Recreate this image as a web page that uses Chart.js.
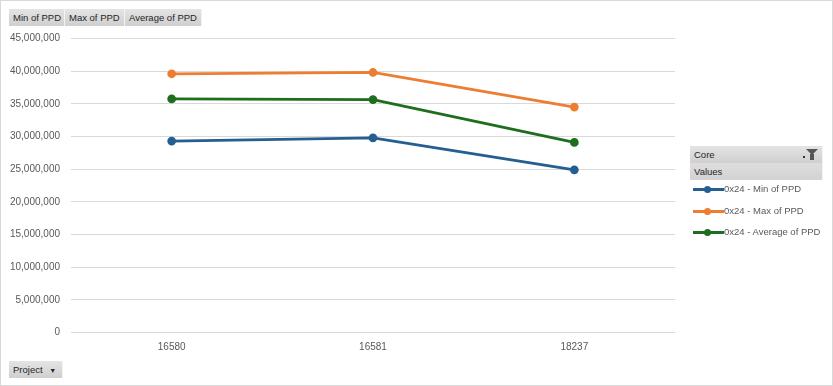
<!DOCTYPE html>
<html><head><meta charset="utf-8">
<script src="https://cdn.jsdelivr.net/npm/chart.js@4"></script>
<style>
html,body{margin:0;padding:0;background:#fff;}
#wrap{position:absolute;left:0;top:0;width:831px;height:384px;border:1px solid #d9d9d9;background:#fff;font-family:"Liberation Sans",Arial,sans-serif;}
#c{position:absolute;left:0;top:0;}
.btn{position:absolute;height:17px;line-height:17px;font-size:9.5px;color:#262626;padding:0 4px;box-sizing:border-box;background:linear-gradient(#e4e4e4,#cfcfcf);border-right:1px solid #f4f4f4;white-space:nowrap;overflow:hidden;}
.lg{position:absolute;left:692px;font-size:9.5px;color:#595959;white-space:nowrap;}
.sw{display:inline-block;position:relative;width:31px;height:10px;vertical-align:middle;}
.sw i{position:absolute;left:0;top:4px;width:31px;height:3px;}
.sw b{position:absolute;left:11px;top:2px;width:7px;height:7px;border-radius:50%;}
.fun{position:absolute;right:4px;top:3px;width:0;height:0;border-left:6px solid transparent;border-right:6px solid transparent;border-top:6px solid #555;}
.fun2{position:absolute;right:8px;top:8px;width:4px;height:6px;background:#555;}
.dot{position:absolute;right:17px;top:10px;width:2px;height:2px;background:#333;}
</style></head><body>
<div id="wrap">
<canvas id="c" width="831" height="384"></canvas>
<div class="btn" style="left:8px;top:8px;width:56px;">Min of PPD</div>
<div class="btn" style="left:64px;top:8px;width:60px;">Max of PPD</div>
<div class="btn" style="left:124px;top:8px;width:77px;">Average of PPD</div>
<div class="btn" style="left:8px;top:360px;width:54px;">Project <span style="font-size:7px;margin-left:4px;">&#9660;</span></div>
<div class="btn" style="left:689px;top:145px;width:133px;">Core<span class="dot"></span><span class="fun"></span><span class="fun2"></span></div>
<div class="btn" style="left:689px;top:162px;width:133px;background:linear-gradient(#dedede,#d2d2d2);">Values</div>
<div id="legend"></div>
</div>
<script>
const categories = ["16580", "16581", "18237"];
const seriesNames = ["0x24 - Min of PPD", "0x24 - Max of PPD", "0x24 - Average of PPD"];
const minPPD = [29300000, 29800000, 24900000];
const maxPPD = [39600000, 39800000, 34500000];
const avgPPD = [35750000, 35650000, 29100000];
const colors = ["#255E91", "#ED7D31", "#1E6E1E"];
const seriesData = [minPPD, maxPPD, avgPPD];

const lg = document.getElementById('legend');
seriesNames.forEach((n, i) => {
  const d = document.createElement('div');
  d.className = 'lg';
  d.style.top = (182 + i * 21.5) + 'px';
  d.innerHTML = '<span class="sw"><i style="background:' + colors[i] + '"></i><b style="background:' + colors[i] + '"></b></span>' + n;
  lg.appendChild(d);
});

new Chart(document.getElementById('c'), {
  type: 'line',
  data: {
    labels: categories,
    datasets: seriesData.map((d, i) => ({
      label: seriesNames[i], data: d,
      borderColor: colors[i], backgroundColor: colors[i],
      borderWidth: 2.75, pointRadius: 3, pointHoverRadius: 3,
      pointBackgroundColor: colors[i], pointBorderColor: colors[i], tension: 0
    }))
  },
  options: {
    responsive: false, animation: false,
    layout: { padding: { left: 0, right: 157, top: 37.5, bottom: 0 } },
    plugins: { legend: { display: false }, tooltip: { enabled: false } },
    scales: {
      x: {
        offset: true,
        grid: { display: false, drawTicks: false },
        border: { display: false },
        ticks: { color: '#595959', font: { family: 'Liberation Sans', size: 10 }, padding: 9, maxRotation: 0 },
        afterFit: s => { s.height = 52.5; }
      },
      y: {
        min: 0, max: 45000000,
        grid: { color: '#d9d9d9', lineWidth: 1, drawTicks: false },
        border: { display: false },
        ticks: { stepSize: 5000000, color: '#595959', font: { family: 'Liberation Sans', size: 10 }, padding: 11,
          callback: v => v.toLocaleString('en-US') },
        afterFit: s => { s.width = 70; }
      }
    }
  }
});
</script>
</body></html>
